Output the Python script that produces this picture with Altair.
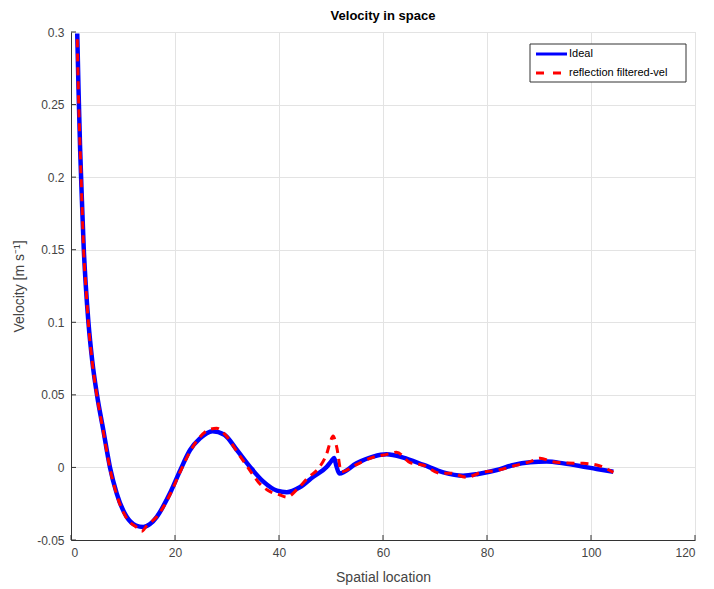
import altair as alt
import pandas as pd

# Ideal velocity profile along the domain
ideal_x = [1.2, 1.45, 1.75, 2.1, 2.45, 2.85, 3.35, 4.1, 5.0, 6.2, 7.5, 8.8, 10.7, 12.5,
           13.9, 15.2, 16.5, 19.0, 21.0, 22.9, 24.8, 27.2, 29.5, 31.9, 34.4, 37.0, 39.6,
           41.5, 44.0, 46.6, 49.2, 50.1, 50.6, 51.0, 51.6, 54.9, 58.1, 60.7, 63.9, 67.8,
           71.6, 75.4, 78.3, 81.9, 85.1, 88.3, 91.5, 94.7, 97.9, 101.1, 104.3]
ideal_v = [0.299, 0.26, 0.22, 0.184, 0.151, 0.125, 0.1, 0.073, 0.05, 0.026, 0.0, -0.018,
           -0.034, -0.040, -0.041, -0.039, -0.034, -0.018, -0.002, 0.012, 0.020, 0.025,
           0.0225, 0.012, 0.0005, -0.0098, -0.016, -0.0171, -0.0137, -0.0064, 0.0005,
           0.0045, 0.0065, 0.0015, -0.0042, 0.0028, 0.0074, 0.009, 0.0068, 0.0017,
           -0.0034, -0.0057, -0.0045, -0.0018, 0.0017, 0.0035, 0.004, 0.0028, 0.001,
           -0.0011, -0.003]

# Velocity recovered after reflection filtering
filt_x = [1.2, 1.45, 1.75, 2.1, 2.45, 2.85, 3.35, 4.1, 5.0, 6.2, 7.5, 8.8, 10.7, 12.5,
          13.6, 14.6, 16.5, 19.0, 21.0, 22.9, 24.8, 26.5, 28.0, 29.8, 31.9, 34.4, 36.0,
          38.3, 40.2, 41.5, 43.5, 45.6, 47.6, 49.2, 49.9, 50.4, 51.1, 52.0, 54.9, 58.1,
          60.7, 62.6, 65.2, 67.8, 71.0, 73.0, 76.1, 78.7, 81.9, 85.1, 88.3, 90.2, 92.5,
          95.5, 98.5, 101.1, 104.3]
filt_v = [0.295, 0.255, 0.22, 0.183, 0.148, 0.125, 0.099, 0.072, 0.049, 0.025, -0.001,
          -0.019, -0.035, -0.041, -0.044, -0.040, -0.034, -0.019, -0.003, 0.011, 0.021,
          0.026, 0.027, 0.022, 0.011, -0.002, -0.010, -0.0167, -0.019, -0.0205, -0.015,
          -0.007, -0.0006, 0.0097, 0.018, 0.0216, 0.014, -0.003, 0.002, 0.007, 0.009,
          0.0105, 0.0033, 0.0015, -0.004, -0.004, -0.0068, -0.0036, -0.002, 0.001, 0.004,
          0.0063, 0.004, 0.003, 0.0028, 0.0017, -0.0034]

series_names = ["Ideal", "reflection filtered-vel"]
series_colors = ["#0000ff", "#ff0000"]
x_ticks = [0, 20, 40, 60, 80, 100, 120]
y_ticks = [-0.05, 0, 0.05, 0.1, 0.15, 0.2, 0.25, 0.3]

ideal_df = pd.DataFrame({"x": ideal_x, "v": ideal_v})
filt_df = pd.DataFrame({"x": filt_x, "v": filt_v})

W, H = 624, 508
FONT = "Liberation Sans"
AX = "#333333"
LBL = "#444444"

xscale = alt.Scale(domain=[0, 120], nice=False, zero=False)
yscale = alt.Scale(domain=[-0.05, 0.3], nice=False, zero=False)

x_enc = alt.X(
    "x:Q", scale=xscale,
    axis=alt.Axis(title="Spatial location", values=x_ticks, ticks=False,
                  grid=True, gridColor="#e3e3e3", domainColor=AX, domainWidth=1,
                  labelFont=FONT, labelFontSize=12, labelColor=LBL, labelPadding=7,
                  titleFont=FONT, titleFontSize=14, titleFontWeight="normal",
                  titleColor=LBL, titlePadding=12),
)
y_enc = alt.Y(
    "v:Q", scale=yscale,
    axis=alt.Axis(title="Velocity [m s\u207b\u00b9]", values=y_ticks, ticks=False,
                  grid=True, gridColor="#e3e3e3", domainColor=AX, domainWidth=1,
                  labelExpr="replace(format(datum.value, '.2~f'), '\u2212', '-')",
                  labelFont=FONT, labelFontSize=12, labelColor=LBL, labelPadding=7,
                  titleFont=FONT, titleFontSize=14, titleFontWeight="normal",
                  titleColor=LBL, titlePadding=10),
)

ideal_line = alt.Chart(ideal_df).mark_line(
    strokeWidth=4.5, clip=True, color=series_colors[0], interpolate="monotone"
).encode(x=x_enc, y=y_enc, order=alt.Order("x:Q"))

filt_line = alt.Chart(filt_df).mark_line(
    strokeWidth=3, clip=True, color=series_colors[1], strokeDash=[8, 6],
    interpolate="monotone"
).encode(x="x:Q", y="v:Q", order=alt.Order("x:Q"))

# Inward-pointing tick marks along both axes
xt = alt.Chart(pd.DataFrame({"t": x_ticks})).mark_rule(color=AX, strokeWidth=1).encode(
    x=alt.X("t:Q", scale=xscale), y=alt.value(H), y2=alt.value(H - 5)
)
yt = alt.Chart(pd.DataFrame({"t": y_ticks})).mark_rule(color=AX, strokeWidth=1).encode(
    y=alt.Y("t:Q", scale=yscale), x=alt.value(0), x2=alt.value(5)
)

# Legend box in the upper-right corner
one = pd.DataFrame({"k": [0]})
leg_box = alt.Chart(one).mark_rect(fill="white", stroke="#333333", strokeWidth=1).encode(
    x=alt.value(459), x2=alt.value(615), y=alt.value(12), y2=alt.value(50)
)
leg_ideal = alt.Chart(one).mark_rule(color=series_colors[0], strokeWidth=3).encode(
    x=alt.value(465), x2=alt.value(496), y=alt.value(22)
)
leg_filt = alt.Chart(one).mark_rule(color=series_colors[1], strokeWidth=3,
                                    strokeDash=[8, 9]).encode(
    x=alt.value(465), x2=alt.value(496), y=alt.value(41)
)
leg_t1 = alt.Chart(one).mark_text(align="left", baseline="middle", font=FONT,
                                  fontSize=11, color="#000000",
                                  text=series_names[0]).encode(
    x=alt.value(498), y=alt.value(22)
)
leg_t2 = alt.Chart(one).mark_text(align="left", baseline="middle", font=FONT,
                                  fontSize=11, color="#000000",
                                  text=series_names[1]).encode(
    x=alt.value(498), y=alt.value(41)
)

chart = alt.layer(ideal_line, filt_line, xt, yt, leg_box, leg_ideal, leg_filt,
                  leg_t1, leg_t2).properties(
    width=W, height=H,
    title=alt.TitleParams("Velocity in space", font=FONT, fontSize=13, fontWeight="bold",
                          color="#000000", offset=3, anchor="middle"),
    autosize=alt.AutoSizeParams(type="none"),
    padding={"left": 71, "top": 32, "right": 19, "bottom": 49},
).configure_view(stroke=None).configure(background="white")

chart.save("out.html", embed_options={"renderer": "svg", "actions": False})
